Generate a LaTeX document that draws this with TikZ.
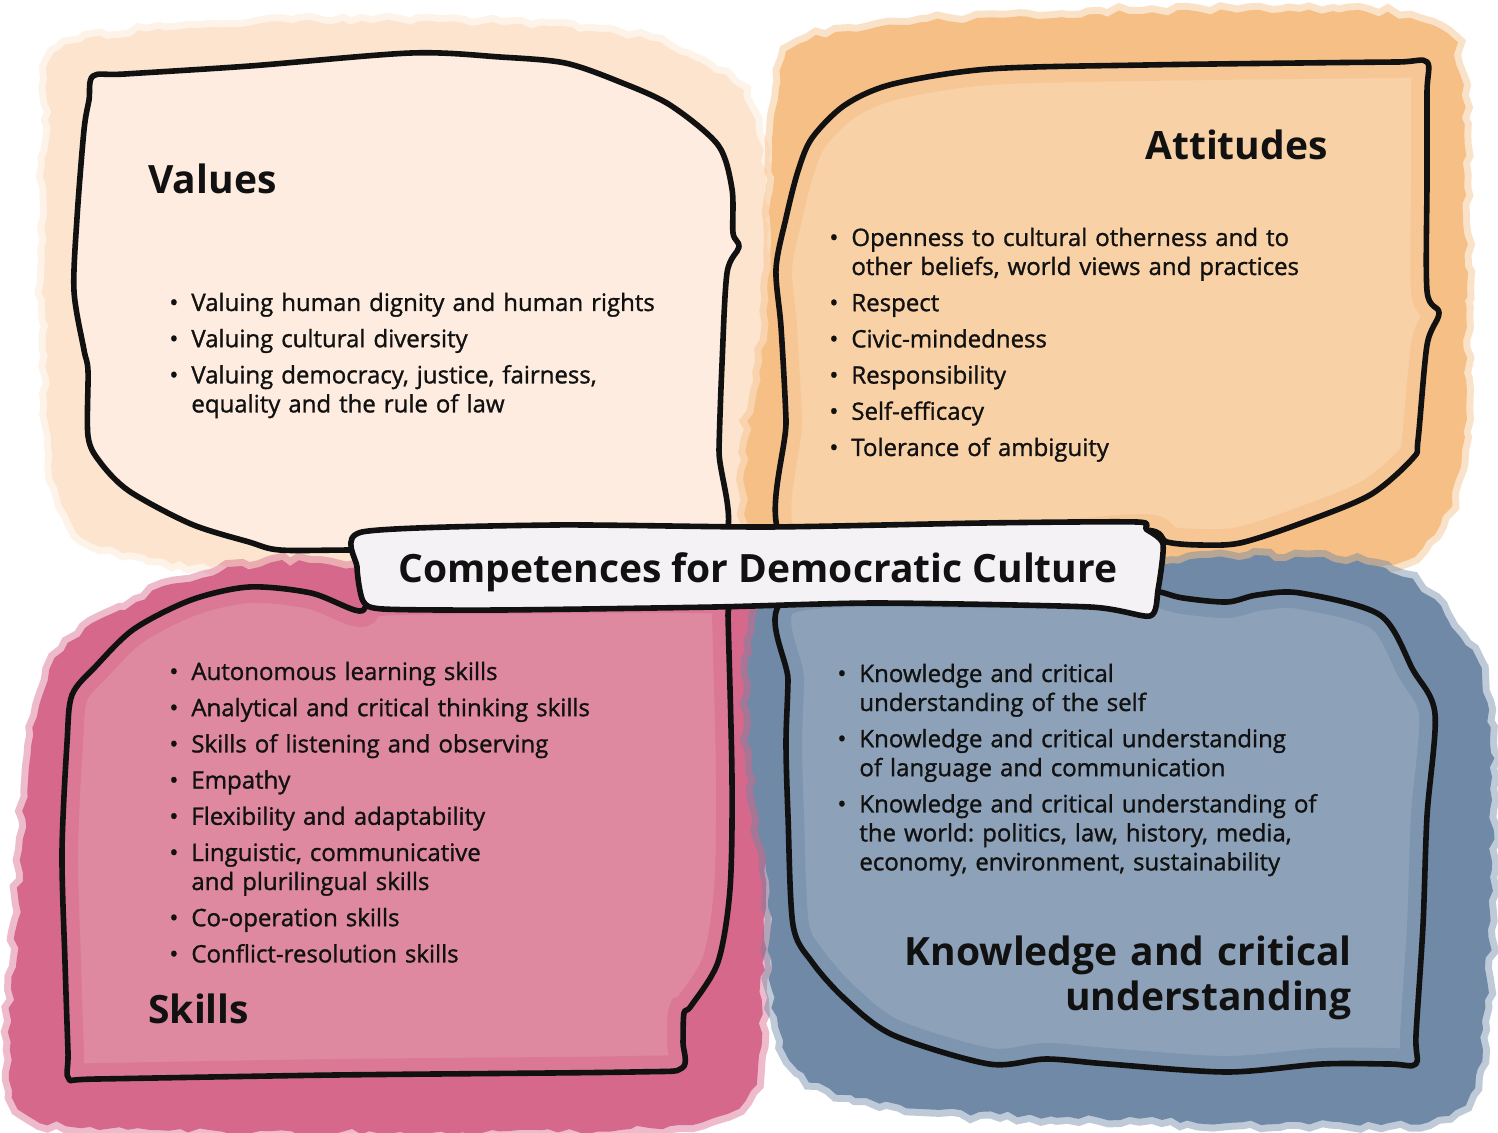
\documentclass[tikz,border=0pt]{standalone}
\usepackage{fontspec}
\setmainfont{Open Sans}
\newfontfamily\itemfont{Open Sans}[FakeBold=1.2]
\newfontfamily\headfont{Open Sans}
\usepackage{tikz}
\usetikzlibrary{decorations.pathmorphing}
\definecolor{valuesfill}{HTML}{FDECDF}
\definecolor{valueswash}{HTML}{FCE4CE}
\definecolor{attitudesfill}{HTML}{F8D1A6}
\definecolor{attitudeswash}{HTML}{F5BF86}
\definecolor{skillsfill}{HTML}{DF89A1}
\definecolor{skillswash}{HTML}{D6688C}
\definecolor{knowledgefill}{HTML}{8DA2B8}
\definecolor{knowledgewash}{HTML}{6F89A6}
\definecolor{bannerfill}{HTML}{F4F2F5}
\definecolor{ink}{HTML}{111111}
\frenchspacing
\tikzset{
	wash/.style={% ragged watercolour edge
		decorate,
		decoration={random steps, segment length=5pt, amplitude=1.6pt},
		line width=7pt,
		draw opacity=.45
	},
	outline/.style={
		draw=ink,
		line width=2.8pt,
		line join=round,
		line cap=round
	},
	heading/.style={
		font=\headfont\bfseries\fontsize{19.5}{22.5}\selectfont,
		text=ink,
		inner sep=0pt
	},
	itemlist/.style={
		anchor=base west,
		inner sep=0pt,
		align=left,
		text=ink,
		font=\itemfont\fontsize{12}{14.5}\selectfont,
		execute at begin node={\setlength{\parskip}{3.6pt}}
	}
}
\newcommand*{\itm}[1]{\noindent\hangindent=11pt\hangafter=1\makebox[11pt][l]{\textbullet}#1\par}
% hand drawn outlines, in pixel units
\newcommand*{\valuesblob}{plot[smooth cycle, tension=.5] coordinates {(93,76) (125,74) (250,66) (411,53) (500,57) (565,63) (620,82) (670,105) (718,145) (732,189) (733,233) (739,247) (727,273) (722,364) (719,450) (718,545) (550,549) (353,550) (280,550) (249,542) (191,524) (129,491) (100,462) (88,436) (88,371) (84,350) (74,291) (77,218) (84,130) (89,100)}}
\newcommand*{\attitudesblob}{plot[smooth cycle, tension=.5] coordinates {(1427,62) (1427,92) (1427,180) (1427,291) (1439,313) (1427,345) (1418,440) (1413,458) (1370,495) (1299,524) (1240,543) (1200,545) (1167,542) (1143,530) (1000,540) (789,545) (786,420) (781,327) (776,269) (786,218) (798,171) (812,138) (845,105) (893,84) (989,69) (1146,65) (1300,63) (1398,62)}}
\newcommand*{\skillsblob}{plot[smooth cycle, tension=.5] coordinates {(359,611) (311,593) (249,587) (191,600) (134,629) (96,666) (72,695) (67,743) (62,852) (65,962) (68,1052) (69,1079) (97,1079) (335,1075) (632,1072) (682,1068) (683,1042) (684,1013) (691,1006) (718,962) (730,889) (732,779) (728,615) (728,598) (500,598) (380,600)}}
\newcommand*{\knowledgeblob}{plot[smooth cycle, tension=.5] coordinates {(788,598) (788,680) (786,743) (788,816) (793,925) (812,962) (845,999) (893,1035) (989,1064) (1046,1059) (1108,1064) (1227,1072) (1322,1064) (1390,1064) (1416,1064) (1416,1035) (1423,925) (1427,816) (1435,714) (1413,670) (1380,615) (1300,593) (1257,595) (1227,602) (1183,598) (1160,592) (1140,590) (1000,592)}}
\newcommand*{\bannerpath}{plot[smooth cycle, tension=.4] coordinates {(362,532) (554,525) (768,527) (983,523) (1137,522) (1146,529) (1163,544) (1158,590) (1150,616) (1090,607) (876,603) (715,607) (501,610) (383,609) (363,601) (357,567)}}

\begin{document}
\begin{tikzpicture}[x=0.5pt,y=-0.5pt]
	\useasboundingbox (0,0) rectangle (1498,1133);
	\pgfmathsetseed{11}
	
	% Watercolour washes behind the boxes.
	\path[wash, fill=valueswash, draw=valueswash] plot[smooth cycle, tension=.6] coordinates {(60,50) (200,28) (400,22) (600,32) (700,62) (755,120) (772,300) (768,565) (500,568) (300,568) (150,558) (62,505) (45,300) (48,120)};
	\path[wash, fill=attitudeswash, draw=attitudeswash] plot[smooth cycle, tension=.6] coordinates {(800,45) (900,25) (1100,14) (1300,12) (1420,22) (1460,75) (1465,300) (1462,450) (1440,525) (1385,565) (1250,575) (1150,570) (775,562) (768,300) (778,100)};
	\path[wash, fill=skillswash, draw=skillswash] plot[smooth cycle, tension=.6] coordinates {(330,565) (220,572) (120,610) (50,670) (28,780) (18,920) (10,1050) (30,1115) (150,1130) (400,1132) (650,1128) (745,1100) (762,1000) (768,800) (765,615) (700,605) (500,602)};
	\path[wash, fill=knowledgewash, draw=knowledgewash] plot[smooth cycle, tension=.6] coordinates {(765,605) (768,900) (790,1060) (900,1105) (1100,1118) (1300,1122) (1455,1110) (1485,1000) (1492,800) (1482,680) (1445,615) (1385,568) (1250,558) (1160,565) (1000,598)};
	
	% Light insides with a darker rim.
	\fill[valuesfill] \valuesblob;
	\fill[attitudesfill] \attitudesblob;
	\fill[skillsfill] \skillsblob;
	\fill[knowledgefill] \knowledgeblob;
	\begin{scope}
		\clip \attitudesblob;
		\draw[attitudeswash, line width=16pt, opacity=.5] \attitudesblob;
	\end{scope}
	\begin{scope}
		\clip \skillsblob;
		\draw[skillswash, line width=16pt, opacity=.5] \skillsblob;
	\end{scope}
	\begin{scope}
		\clip \knowledgeblob;
		\draw[knowledgewash, line width=16pt, opacity=.5] \knowledgeblob;
	\end{scope}
	
	\draw[outline] \valuesblob;
	\draw[outline] \attitudesblob;
	\draw[outline] \skillsblob;
	\draw[outline] \knowledgeblob;
	
	% Banner across the middle.
	\filldraw[outline, fill=bannerfill] \bannerpath;
	\node (title) [heading, anchor=base] at (758,582) {Competences for Democratic Culture};
	
	% Headings.
	\node (values) [heading, anchor=base west] at (148,194) {Values};
	\node (attitudes) [heading, anchor=base east] at (1328,160) {Attitudes};
	\node (skills) [heading, anchor=base west] at (148,1023) {Skills};
	\node (knowledge) [heading, anchor=base east, align=right, text width=250pt] at (1352,965) {Knowledge and critical\\understanding};
	
	% Lists.
	\node (valueslist) [itemlist, text width=260pt] at (169,311) {%
		\itm{Valuing human dignity and human rights}
		\itm{Valuing cultural diversity}
		\itm{Valuing democracy, justice, fairness,\newline equality and the rule of law}};
	\node (attitudeslist) [itemlist, text width=260pt] at (829,246) {%
		\itm{Openness to cultural otherness and to\newline other beliefs, world views and practices}
		\itm{Respect}
		\itm{Civic-mindedness}
		\itm{Responsibility}
		\itm{Self-efficacy}
		\itm{Tolerance of ambiguity}};
	\node (skillslist) [itemlist, text width=260pt] at (169,680) {%
		\itm{Autonomous learning skills}
		\itm{Analytical and critical thinking skills}
		\itm{Skills of listening and observing}
		\itm{Empathy}
		\itm{Flexibility and adaptability}
		\itm{Linguistic, communicative\newline and plurilingual skills}
		\itm{Co-operation skills}
		\itm{Conflict-resolution skills}};
	\node (knowledgelist) [itemlist, text width=260pt] at (837,682) {%
		\itm{Knowledge and critical\newline understanding of the self}
		\itm{Knowledge and critical understanding\newline of language and communication}
		\itm{Knowledge and critical understanding of\newline the world: politics, law, history, media,\newline economy, environment, sustainability}};
\end{tikzpicture}
\end{document}
